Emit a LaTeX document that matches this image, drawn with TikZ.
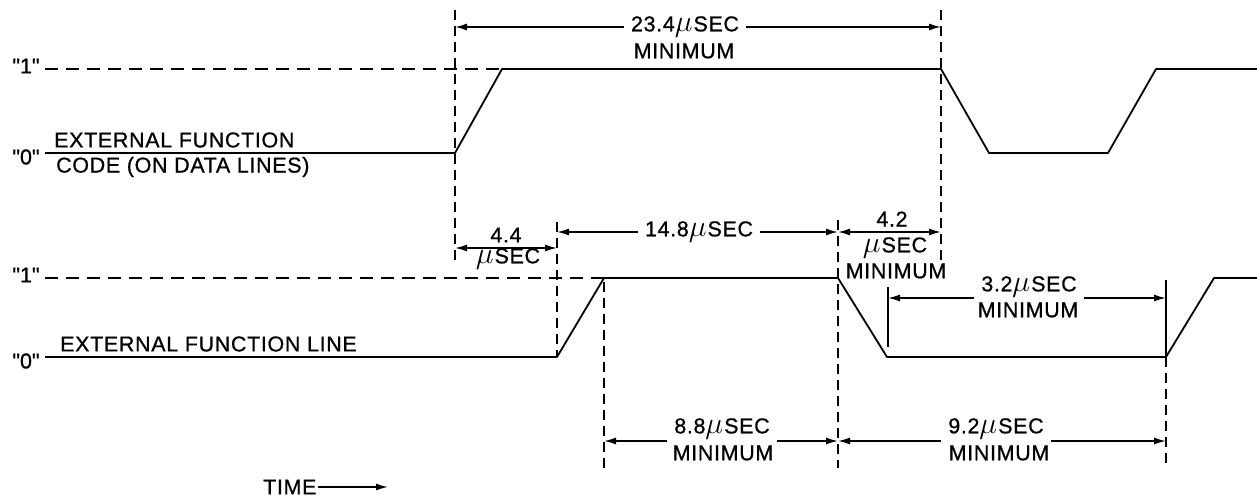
\documentclass[tikz,border=0pt]{standalone}
\usepackage{graphicx}
\usepackage{fontspec}
\setmainfont{Liberation Sans}[LetterSpace=3, FakeBold=0.8]
\usetikzlibrary{arrows.meta}
\newcommand{\mymu}{\raisebox{-0.5pt}{\scalebox{1.45}{$\mu$}}\kern1pt}
\begin{document}
\begin{tikzpicture}[x=1pt,y=-1pt,
  wave/.style={line width=1.8pt, line join=round},
  lvl/.style={line width=1.7pt, dash pattern=on 13pt off 8pt},
  vdash/.style={line width=1.6pt, dash pattern=on 10pt off 6pt},
  tick/.style={line width=1.6pt},
  dim/.style={line width=1.5pt, {Latex[length=12pt,width=7pt]}-{Latex[length=12pt,width=7pt]}},
  half/.style={line width=1.5pt, -{Latex[length=12pt,width=7pt]}},
  lbl/.style={font=\fontsize{21.5}{22}\selectfont, inner sep=1pt},
  gap/.style={lbl, inner xsep=7pt}]
\useasboundingbox (0,0) rectangle (1257,497);

% ---------- top waveform ----------
\coordinate (a0) at (45,153);
\coordinate (a1) at (455,153);
\coordinate (a2) at (502,69);
\coordinate (a3) at (941,69);
\coordinate (a4) at (989,153);
\coordinate (a5) at (1108,153);
\coordinate (a6) at (1156,69);
\coordinate (a7) at (1257,69);
\coordinate (h0) at (45,69);
\draw[lvl] (h0) -- (a2);
\draw[wave] (a0) -- (a1) -- (a2) -- (a3) -- (a4) -- (a5) -- (a6) -- (a7);
\node[lbl] (one1) at (26,66) {\textquotedbl1\textquotedbl};
\node[lbl] (zero1) at (26,157) {\textquotedbl0\textquotedbl};
\node[lbl, anchor=west] (efc1) at (53,140) {EXTERNAL FUNCTION};
\node[lbl, anchor=west] (efc2) at (55,167) {CODE (ON DATA LINES)};

% ---------- lower waveform ----------
\coordinate (b0) at (45,357);
\coordinate (b1) at (557,357);
\coordinate (b2) at (604,278);
\coordinate (b3) at (838,278);
\coordinate (b4) at (887,357);
\coordinate (b5) at (1166,357);
\coordinate (b6) at (1214,278);
\coordinate (b7) at (1257,278);
\coordinate (g0) at (45,278);
\draw[lvl] (g0) -- (b2);
\draw[wave] (b0) -- (b1) -- (b2) -- (b3) -- (b4) -- (b5) -- (b6) -- (b7);
\node[lbl] (one2) at (26,275) {\textquotedbl1\textquotedbl};
\node[lbl] (zero2) at (26,361) {\textquotedbl0\textquotedbl};
\node[lbl, anchor=west] (efl) at (59,344) {EXTERNAL FUNCTION LINE};

% ---------- vertical reference lines ----------
\coordinate (v1t) at (455,10);  \coordinate (v1b) at (455,266);
\coordinate (v2t) at (941,10);  \coordinate (v2b) at (941,262);
\coordinate (v3t) at (557,222); \coordinate (v3b) at (557,357);
\coordinate (v4t) at (838,220); \coordinate (v4b) at (838,468);
\coordinate (v5t) at (604,282); \coordinate (v5b) at (604,468);
\coordinate (v6t) at (1166,357); \coordinate (v6b) at (1166,468);
\draw[vdash] (v1t) -- (v1b);
\draw[vdash] (v2t) -- (v2b);
\draw[vdash] (v3t) -- (v3b);
\draw[vdash] (v4t) -- (v4b);
\draw[vdash] (v5t) -- (v5b);
\draw[vdash] (v6t) -- (v6b);
% solid ticks
\coordinate (k1t) at (888,287); \coordinate (k1b) at (888,347);
\coordinate (k2t) at (1166,280); \coordinate (k2b) at (1166,357);
\draw[tick] (k1t) -- (k1b);
\draw[tick] (k2t) -- (k2b);

% ---------- dimensions ----------
% 23.4
\coordinate (d1l) at (455,27); \coordinate (d1r) at (941,27);
\node[gap] (t234) at (685,27) {23.4\mymu SEC};
\node[lbl] (t234m) at (684,51) {MINIMUM};
\draw[half] (t234.west |- d1l) -- (d1l);
\draw[half] (t234.east |- d1r) -- (d1r);
% 4.4
\coordinate (d2l) at (455,248); \coordinate (d2r) at (557,248);
\draw[dim] (d2l) -- (d2r);
\node[lbl] (t44) at (506,235) {4.4};
\node[lbl] (t44u) at (508,259) {\mymu SEC};
% 14.8
\coordinate (d3l) at (557,232); \coordinate (d3r) at (838,232);
\node[gap] (t148) at (699,232) {14.8\mymu SEC};
\draw[half] (t148.west |- d3l) -- (d3l);
\draw[half] (t148.east |- d3r) -- (d3r);
% 4.2
\coordinate (d4l) at (838,232); \coordinate (d4r) at (941,232);
\draw[dim] (d4l) -- (d4r);
\node[lbl] (t42) at (892,219) {4.2};
\node[lbl] (t42u) at (895,248) {\mymu SEC};
\node[lbl] (t42m) at (896,271) {MINIMUM};
% 3.2
\coordinate (d5l) at (888,298); \coordinate (d5r) at (1166,298);
\node[gap] (t32) at (1029,287) {3.2\mymu SEC};
\node[lbl] (t32m) at (1028,310) {MINIMUM};
\draw[half] (t32.west |- d5l) -- (d5l);
\draw[half] (t32.east |- d5r) -- (d5r);
% 8.8
\coordinate (d6l) at (604,441); \coordinate (d6r) at (838,441);
\node[gap] (t88) at (722,429) {8.8\mymu SEC};
\node[lbl] (t88m) at (723,453) {MINIMUM};
\draw[half] (t88.west |- d6l) -- (d6l);
\draw[half] (t88.east |- d6r) -- (d6r);
% 9.2
\coordinate (d7l) at (838,441); \coordinate (d7r) at (1166,441);
\node[gap] (t92) at (996,429) {9.2\mymu SEC};
\node[lbl] (t92m) at (999,453) {MINIMUM};
\draw[half] (t92.west |- d7l) -- (d7l);
\draw[half] (t92.east |- d7r) -- (d7r);

% ---------- time arrow ----------
\node[lbl, anchor=west] (time) at (262,487) {TIME};
\coordinate (tend) at (388,487);
\draw[half] (time.east) -- (tend);
\end{tikzpicture}
\end{document}
